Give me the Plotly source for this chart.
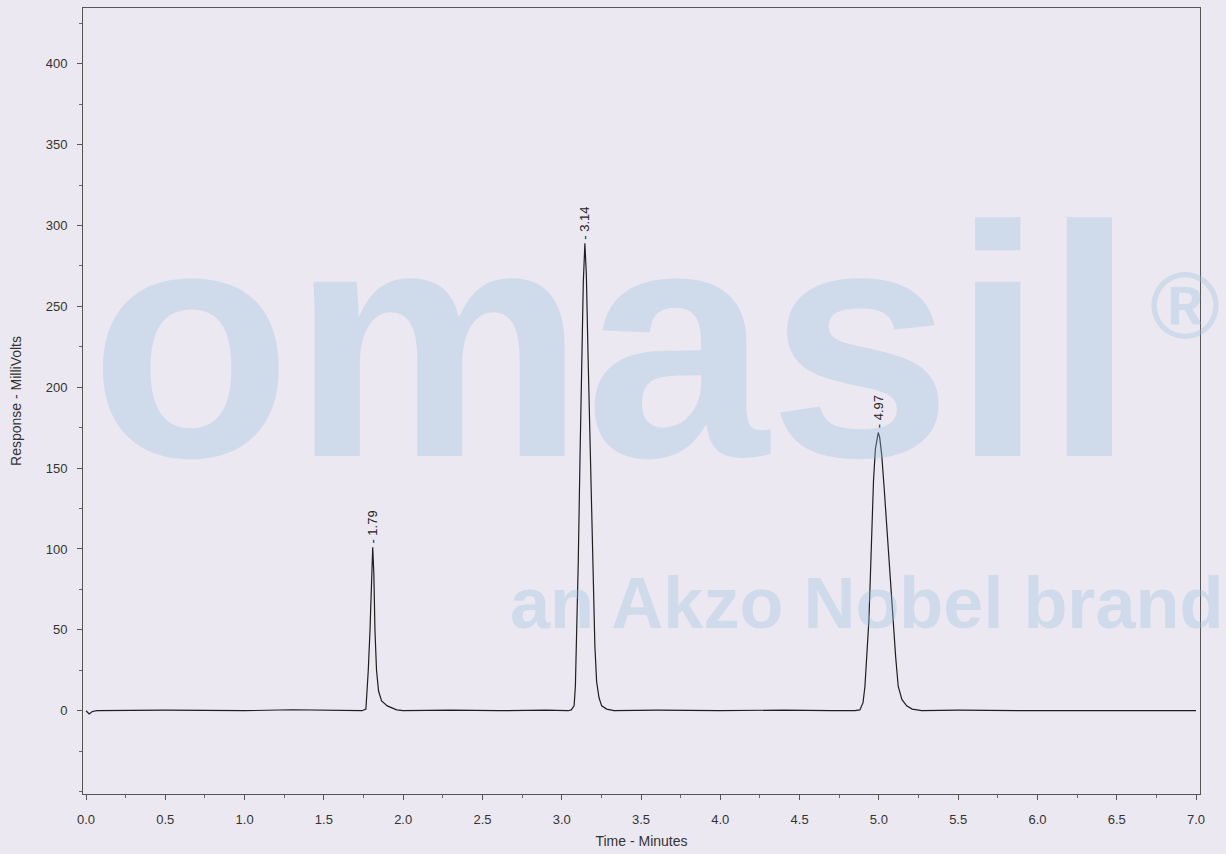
import plotly.graph_objects as go

# ---- data ----
base_a_t = [0.0, 0.02, 0.04, 0.07, 0.5, 1.0, 1.3, 1.5, 1.74]
base_a_v = [0.0, -2.0, -0.5, 0.0, 0.3, 0.0, 0.6, 0.4, 0.0]

peak1_t = [1.765, 1.775, 1.780, 1.791, 1.800, 1.808, 1.815, 1.822, 1.832, 1.845, 1.864, 1.90, 1.959]
peak1_v = [1.0, 15.0, 25.0, 50.0, 85.0, 101.0, 85.0, 50.0, 25.0, 12.0, 6.0, 3.0, 0.5]

base_b_t = [2.0, 2.3, 2.6, 2.9, 3.04, 3.06]
base_b_v = [0.0, 0.4, 0.0, 0.3, 0.0, 0.5]

peak2_t = [3.078, 3.086, 3.095, 3.104, 3.115, 3.125, 3.136, 3.146, 3.155, 3.167, 3.183, 3.199,
           3.209, 3.220, 3.235, 3.252, 3.283]
peak2_v = [3.0, 15.0, 50.0, 91.0, 155.0, 215.0, 265.0, 289.0, 270.0, 215.0, 150.0, 91.0,
           40.0, 18.0, 8.0, 3.0, 1.0]

base_c_t = [3.33, 3.6, 4.0, 4.4, 4.7, 4.85, 4.88]
base_c_v = [0.0, 0.3, 0.0, 0.4, 0.0, 0.0, 0.5]

peak3_t = [4.900, 4.912, 4.925, 4.937, 4.947, 4.956, 4.966, 4.978, 4.990, 4.996, 5.005, 5.018,
           5.033, 5.049, 5.068, 5.090, 5.106, 5.122, 5.145, 5.175, 5.21]
peak3_v = [5.0, 15.0, 33.0, 56.0, 85.0, 115.0, 142.0, 162.0, 171.0, 172.0, 169.0, 158.0,
           138.0, 115.0, 85.0, 56.0, 33.0, 15.0, 7.0, 3.0, 1.0]

base_d_t = [5.27, 5.5, 6.0, 6.5, 7.0]
base_d_v = [0.0, 0.3, 0.0, 0.2, 0.0]

peak_labels = ["1.79", "3.14", "4.97"]
peak_label_t = [1.808, 3.146, 4.996]
peak_label_v = [101.0, 289.0, 172.0]

x_ticks = [0.0, 0.5, 1.0, 1.5, 2.0, 2.5, 3.0, 3.5, 4.0, 4.5, 5.0, 5.5, 6.0, 6.5, 7.0]
y_ticks = [0, 50, 100, 150, 200, 250, 300, 350, 400]

time = base_a_t + peak1_t + base_b_t + peak2_t + base_c_t + peak3_t + base_d_t
resp = base_a_v + peak1_v + base_b_v + peak2_v + base_c_v + peak3_v + base_d_v

# ---- figure ----
bg = "#ece8f1"
fig = go.Figure()
fig.add_trace(go.Scatter(x=time, y=resp, mode="lines",
                         line=dict(color="#1e1e1e", width=1.2),
                         hoverinfo="skip", showlegend=False))

L, R, T, B = 83, 26, 8, 60
W, H = 1226, 854
pw, ph = W - L - R, H - T - B

def px(x):
    return (x - L) / pw

def py(y):
    return (H - B - y) / ph

wm = "rgba(150,190,225,0.33)"
annotations = []
# watermark (scanned background)
annotations.append(dict(text="<b>omasil</b>", xref="paper", yref="paper",
                        x=px(88), y=py(528), xanchor="left", yanchor="bottom",
                        showarrow=False, font=dict(family="Liberation Sans", size=330, color=wm)))
annotations.append(dict(text="<b>®</b>", xref="paper", yref="paper",
                        x=px(1148), y=py(360), xanchor="left", yanchor="bottom",
                        showarrow=False, font=dict(family="Liberation Sans", size=95, color=wm)))
annotations.append(dict(text="<b>an Akzo Nobel brand</b>", xref="paper", yref="paper",
                        x=px(508), y=py(645), xanchor="left", yanchor="bottom",
                        showarrow=False, font=dict(family="Liberation Sans", size=72, color=wm)))
for lab, t, v in zip(peak_labels, peak_label_t, peak_label_v):
    annotations.append(dict(text="- " + lab, x=t, y=v, xref="x", yref="y",
                            textangle=-90, showarrow=False, yanchor="bottom",
                            xanchor="center", yshift=2,
                            font=dict(family="Liberation Sans", size=13, color="#222")))

axis_common = dict(showline=True, linecolor="#555", linewidth=1, mirror=True,
                   ticks="outside", ticklen=5, tickcolor="#555", showgrid=False,
                   zeroline=False, tickfont=dict(family="Liberation Sans", size=13, color="#333"))

fig.update_layout(
    width=W, height=H,
    margin=dict(l=L, r=R, t=T, b=B),
    paper_bgcolor=bg, plot_bgcolor="rgba(0,0,0,0)",
    annotations=annotations,
    xaxis=dict(range=[-0.019, 7.025], tickvals=x_ticks,
               ticktext=[f"{v:.1f}" for v in x_ticks], ticklabelstandoff=8,
               minor=dict(dtick=0.25, ticks="outside", ticklen=3, tickcolor="#666"),
               title=dict(text="Time - Minutes", standoff=10,
                          font=dict(family="Liberation Sans", size=14, color="#333")),
               **axis_common),
    yaxis=dict(range=[-51.5, 434.5], tickvals=y_ticks, ticklabelstandoff=7,
               minor=dict(dtick=25, ticks="outside", ticklen=3, tickcolor="#666"),
               title=dict(text="Response - MilliVolts", standoff=20,
                          font=dict(family="Liberation Sans", size=14, color="#333")),
               **axis_common),
)

fig.write_html("out.html", config={"displayModeBar": False},
               post_script="document.body.style.margin='0';")
